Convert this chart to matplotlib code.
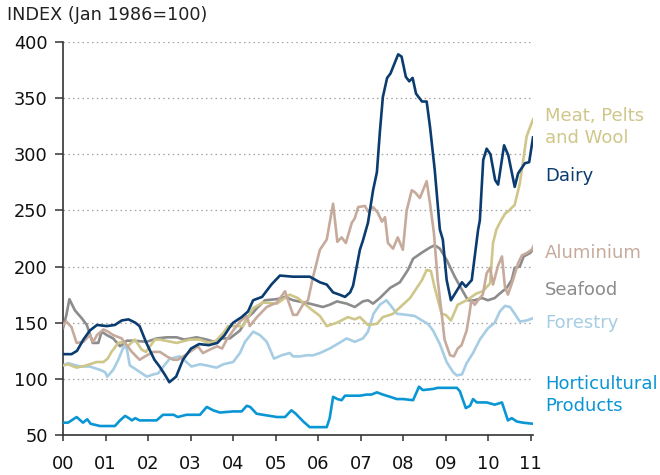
import matplotlib
matplotlib.use("Agg")
import matplotlib.pyplot as plt

# ---- data (t = years since Jan 2000) ----
dairy_t = [0, 0.2, 0.33, 0.48, 0.63, 0.8, 1.03, 1.22, 1.38, 1.54, 1.7, 1.8, 1.96, 2.15, 2.27, 2.39, 2.5, 2.66, 2.82,
           3.01, 3.2, 3.43, 3.63, 3.8, 3.92, 4.0, 4.2, 4.35, 4.47, 4.68, 4.9, 5.1, 5.4, 5.8, 6.04, 6.2, 6.35, 6.5,
           6.63, 6.75, 6.82, 6.98, 7.05, 7.17, 7.29, 7.38, 7.45, 7.52, 7.62, 7.7, 7.88, 7.96, 8.06, 8.14, 8.22, 8.3,
           8.44, 8.55, 8.63, 8.74, 8.86, 8.93, 9.02, 9.12, 9.25, 9.38, 9.47, 9.61, 9.76, 9.8, 9.88, 9.96, 10.05,
           10.16, 10.23, 10.37, 10.47, 10.55, 10.62, 10.7, 10.86, 10.96, 11.05]
dairy_v = [122, 122, 125, 135, 143, 148, 147, 148, 152, 153, 150, 147, 132, 117, 111, 104, 97, 102, 117,
           127, 131, 130, 132, 139, 146, 150, 155, 160, 170, 173, 184, 192, 191, 191, 186, 184, 177, 175,
           173, 177, 183, 215, 223, 239, 268, 284, 320, 351, 368, 372, 389, 387, 369, 365, 368, 354,
           347, 347, 324, 286, 233, 224, 188, 170, 178, 186, 182, 188, 233, 241, 295, 305, 300,
           277, 273, 308, 299, 284, 271, 283, 292, 293, 315]

meat_t = [0, 0.12, 0.32, 0.55, 0.79, 0.95, 1.05, 1.14, 1.3, 1.4, 1.52, 1.69, 1.85, 1.95, 2.16, 2.28, 2.67, 2.98,
          3.22, 3.41, 3.57, 3.77, 3.88, 4.23, 4.47, 4.7, 5.03, 5.33, 5.52, 5.8, 6.04, 6.2, 6.44, 6.7, 6.86, 6.98,
          7.17, 7.38, 7.52, 7.69, 7.76, 8.16, 8.44, 8.55, 8.65, 8.74, 8.9, 9.0, 9.12, 9.28, 9.49, 9.72, 9.87,
          10.04, 10.11, 10.19, 10.27, 10.39, 10.49, 10.62, 10.74, 10.81, 10.9, 11.05]
meat_v = [112, 113, 110, 112, 115, 115, 118, 124, 132, 133, 129, 135, 126, 124, 135, 135, 132, 135,
          135, 132, 133, 141, 147, 147, 163, 168, 167, 175, 172, 163, 156, 147, 150, 155, 153, 155,
          148, 149, 155, 157, 158, 172, 188, 197, 196, 181, 158, 157, 152, 166, 170, 176, 178,
          185, 221, 233, 239, 247, 250, 255, 274, 292, 316, 331]

alum_t = [0, 0.08, 0.2, 0.32, 0.48, 0.63, 0.71, 0.8, 0.95, 1.06, 1.18, 1.38, 1.5, 1.62, 1.8, 1.93, 2.12, 2.28,
          2.44, 2.59, 2.7, 2.87, 3.06, 3.17, 3.29, 3.45, 3.62, 3.74, 3.85, 4.0, 4.16, 4.32, 4.39, 4.56, 4.79,
          5.03, 5.22, 5.29, 5.41, 5.5, 5.64, 5.76, 5.88, 6.04, 6.2, 6.35, 6.45, 6.55, 6.65, 6.79, 6.86, 6.94,
          7.1, 7.17, 7.29, 7.4, 7.5, 7.57, 7.64, 7.76, 7.87, 7.99, 8.08, 8.2, 8.28, 8.39, 8.55, 8.63, 8.72,
          8.81, 8.9, 8.97, 9.1, 9.19, 9.28, 9.37, 9.49, 9.56, 9.6, 9.68, 9.8, 9.87, 9.96, 10.04, 10.11,
          10.23, 10.32, 10.39, 10.46, 10.58, 10.7, 10.79, 10.9, 11.02, 11.07]
alum_v = [148, 151, 146, 132, 133, 139, 133, 139, 144, 142, 139, 136, 130, 124, 117, 120, 124, 124,
          120, 117, 117, 121, 126, 129, 123, 126, 129, 127, 135, 143, 151, 156, 147, 155, 164,
          168, 178, 170, 157, 157, 166, 170, 191, 215, 224, 256, 222, 226, 221, 239, 243, 253,
          254, 249, 253, 248, 240, 244, 221, 216, 226, 215, 250, 268, 266, 261, 276, 256, 230,
          188, 159, 135, 121, 120, 127, 130, 143, 159, 170, 166, 172, 175, 194, 199, 184,
          201, 209, 182, 175, 188, 203, 210, 212, 215, 219]

seafood_t = [0, 0.08, 0.15, 0.28, 0.44, 0.56, 0.7, 0.83, 0.91, 1.03, 1.18, 1.34, 1.5, 1.65, 1.97, 2.2, 2.44, 2.67,
             2.85, 3.14, 3.38, 3.55, 3.73, 3.92, 4.16, 4.35, 4.47, 4.56, 4.75, 5.03, 5.22, 5.41, 5.8, 6.11, 6.27,
             6.44, 6.67, 6.86, 7.05, 7.17, 7.29, 7.45, 7.69, 7.92, 8.11, 8.23, 8.46, 8.63, 8.74, 8.86, 9.02,
             9.21, 9.4, 9.52, 9.68, 9.85, 9.99, 10.15, 10.27, 10.43, 10.55, 10.62, 10.74, 10.83, 10.98, 11.07]
seafood_v = [145, 157, 171, 161, 154, 148, 132, 132, 142, 139, 136, 129, 134, 134, 133, 136, 137, 137,
             135, 137, 135, 133, 136, 136, 143, 155, 159, 163, 170, 171, 173, 170, 167, 164, 166,
             169, 167, 164, 169, 170, 167, 172, 181, 186, 197, 207, 213, 217, 219, 216, 206,
             191, 178, 170, 170, 172, 170, 172, 176, 181, 188, 199, 200, 209, 212, 216]

forest_t = [0, 0.12, 0.4, 0.63, 0.87, 0.99, 1.04, 1.18, 1.3, 1.43, 1.5, 1.57, 1.73, 1.97, 2.13, 2.24, 2.36, 2.51,
            2.75, 2.9, 3.02, 3.22, 3.37, 3.61, 3.77, 4.0, 4.16, 4.28, 4.47, 4.63, 4.79, 4.96, 5.14, 5.33, 5.41,
            5.57, 5.73, 5.88, 6.04, 6.27, 6.45, 6.67, 6.86, 7.05, 7.17, 7.3, 7.45, 7.6, 7.69, 7.85, 8.08, 8.27,
            8.44, 8.58, 8.7, 8.86, 9.02, 9.17, 9.26, 9.38, 9.49, 9.64, 9.8, 9.99, 10.15, 10.27, 10.39, 10.51,
            10.62, 10.74, 10.9, 11.05]
forest_v = [112, 114, 111, 111, 108, 106, 102, 108, 117, 129, 127, 112, 108, 102, 104, 105, 111, 118,
            120, 115, 111, 113, 112, 110, 113, 115, 123, 133, 142, 139, 133, 118, 121, 123, 120,
            120, 121, 121, 123, 127, 131, 136, 133, 136, 142, 158, 166, 170, 166, 158, 157, 156,
            152, 149, 143, 131, 115, 106, 103, 104, 114, 123, 135, 145, 150, 160, 165, 164,
            158, 151, 152, 154]

hort_t = [0, 0.12, 0.32, 0.47, 0.57, 0.65, 0.87, 1.22, 1.34, 1.46, 1.55, 1.62, 1.7, 1.8, 2.2, 2.35, 2.6, 2.7,
          2.9, 3.22, 3.38, 3.53, 3.69, 4.0, 4.2, 4.32, 4.4, 4.55, 4.7, 5.03, 5.22, 5.37, 5.47, 5.65, 5.8, 6.2,
          6.27, 6.35, 6.45, 6.55, 6.63, 6.98, 7.14, 7.25, 7.38, 7.52, 7.69, 7.85, 8.0, 8.23, 8.37, 8.46, 8.7,
          8.81, 9.26, 9.33, 9.47, 9.57, 9.64, 9.73, 9.96, 10.15, 10.32, 10.39, 10.46, 10.55, 10.67, 10.81, 11.05]
hort_v = [61, 61, 66, 61, 64, 60, 58, 58, 63, 67, 65, 63, 65, 63, 63, 68, 68, 66,
          68, 68, 75, 72, 70, 71, 71, 76, 75, 69, 68, 66, 66, 72, 69, 62, 57, 57,
          65, 84, 82, 81, 85, 85, 86, 86, 88, 86, 84, 82, 82, 81, 93, 90, 91,
          92, 92, 89, 74, 76, 82, 79, 79, 77, 79, 71, 63, 65, 62, 61, 60]

year_ticks = list(range(0, 12))
year_labels = ["00", "01", "02", "03", "04", "05", "06", "07", "08", "09", "10", "11"]
y_ticks = [50, 100, 150, 200, 250, 300, 350, 400]

c_dairy = "#0b3c70"
c_meat = "#cfc689"
c_alum = "#c6aa9c"
c_sea = "#8c8c8c"
c_forest = "#a6cde3"
c_hort = "#0a96d4"

plt.rcParams['font.family'] = ['DejaVu Sans']

fig = plt.figure(figsize=(6.6, 4.75), dpi=100)
ax = fig.add_axes([63/660, 1-435/475, (533-63)/660, (435-42)/475])

lw = 1.9
ax.plot(hort_t, hort_v, color=c_hort, lw=lw, zorder=3)
ax.plot(forest_t, forest_v, color=c_forest, lw=lw, zorder=3)
ax.plot(seafood_t, seafood_v, color=c_sea, lw=lw, zorder=4)
ax.plot(meat_t, meat_v, color=c_meat, lw=lw, zorder=5)
ax.plot(alum_t, alum_v, color=c_alum, lw=lw, zorder=6)
ax.plot(dairy_t, dairy_v, color=c_dairy, lw=lw, zorder=7)

ax.set_xlim(0, 11.05)
ax.set_ylim(50, 400)
ax.set_yticks(y_ticks)
ax.set_xticks(year_ticks)
ax.set_xticklabels(year_labels)

for v in y_ticks[1:]:
    ax.axhline(v, color="#a0a0a0", lw=0.9, ls=(0, (1.2, 2.6)), zorder=1)

for s in ["top", "right"]:
    ax.spines[s].set_visible(False)
for s in ["left", "bottom"]:
    ax.spines[s].set_color("#333333")
    ax.spines[s].set_linewidth(1.2)

ax.tick_params(axis="y", direction="out", length=6, width=1.1, color="#333333",
               labelsize=12.8, pad=5, labelcolor="#111111")
ax.tick_params(axis="x", direction="out", length=4.5, width=1.1, color="#333333",
               labelsize=12.8, pad=10, labelcolor="#111111")

fig.text(7/660, 1-15/475, "INDEX (Jan 1986=100)", fontsize=12.7, color="#222222",
         ha="left", va="center")

lx = 545/660
fs = 13
def lab(y, txt, c):
    fig.text(lx, 1-y/475, txt, fontsize=fs, color=c, ha="left", va="center", linespacing=1.3)

lab(127, "Meat, Pelts\nand Wool", c_meat)
lab(176, "Dairy", c_dairy)
lab(253, "Aluminium", c_alum)
lab(290, "Seafood", c_sea)
lab(323, "Forestry", c_forest)
lab(395, "Horticultural\nProducts", c_hort)

fig.savefig("out.png", dpi=100)
